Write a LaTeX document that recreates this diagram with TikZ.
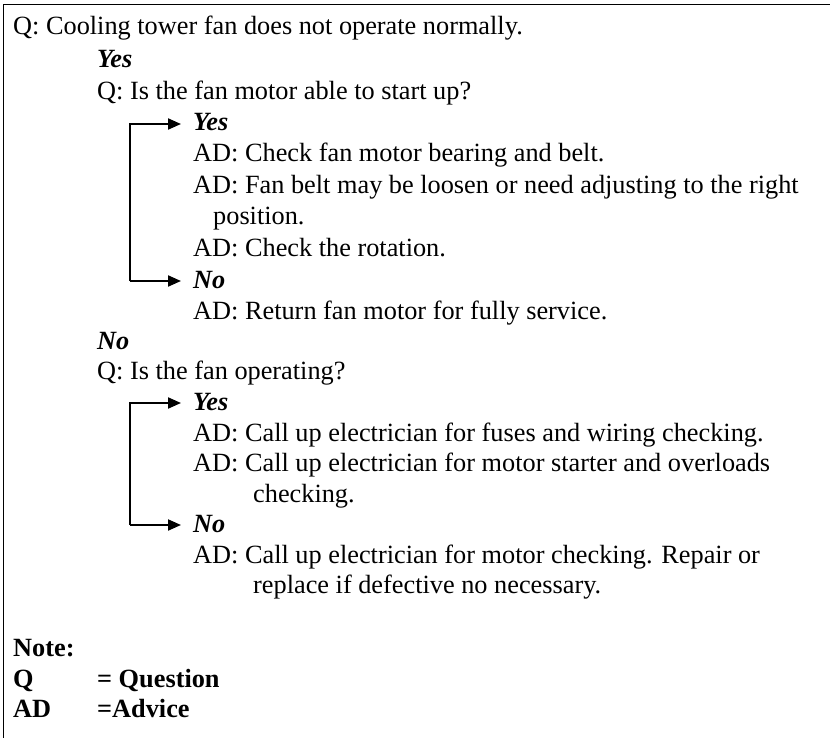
\documentclass[tikz,border=0pt]{standalone}
\usepackage{fontspec}
\setmainfont{Liberation Serif}
\usetikzlibrary{arrows.meta}
\newcommand{\mysize}{\fontsize{26.3pt}{31pt}\selectfont}
\tikzset{
  txt/.style={anchor=base west, inner sep=0pt, font=\mysize},
  ans/.style={txt, font=\mysize\bfseries\itshape},
  note/.style={txt, font=\mysize\bfseries},
  conn/.style={line width=2pt, line join=miter, -{Triangle[length=13pt,width=11pt]}},
  frameline/.style={line width=1.8pt}
}
\begin{document}
\begin{tikzpicture}[x=1pt,y=-1pt]
\useasboundingbox (0,0) rectangle (830,738);
\draw[frameline] (3.5,738) -- (3.5,4.5) -- (830,4.5);
% main question
\node[txt] (q1) at (13,35) {Q: Cooling tower fan does not operate normally.};
\node[ans] (yes1) at (97,68) {Yes};
\node[txt] (q2) at (97,100) {Q: Is the fan motor able to start up?};
\node[ans] (yesA) at (193,131) {Yes};
\node[txt] (adA1) at (193,162) {AD: Check fan motor bearing and belt.};
\node[txt] (adA2) at (193,194) {AD: Fan belt may be loosen or need adjusting to the right};
\node[txt] (adA2b) at (213,225) {position.};
\node[txt] (adA3) at (193,256) {AD: Check the rotation.};
\node[ans] (noA) at (193,288) {No};
\node[txt] (adA4) at (193,319) {AD: Return fan motor for fully service.};
\node[ans] (no1) at (97,349) {No};
\node[txt] (q3) at (97,379) {Q: Is the fan operating?};
\node[ans] (yesB) at (193,410) {Yes};
\node[txt] (adB1) at (193,441) {AD: Call up electrician for fuses and wiring checking.};
\node[txt] (adB2) at (193,471) {AD: Call up electrician for motor starter and overloads};
\node[txt] (adB2b) at (253,502) {checking.};
\node[ans] (noB) at (193,532) {No};
\node[txt] (adB3) at (193,563) {AD: Call up electrician for motor checking. Repair or};
\node[txt] (adB3b) at (253,593) {replace if defective no necessary.};
% note
\node[note] (nt) at (13,656) {Note:};
\node[note] (nq) at (13,687) {Q};
\node[note] (nqd) at (97,687) {= Question};
\node[note] (nad) at (13,717) {AD};
\node[note] (nadd) at (97,717) {=Advice};
% brackets
\coordinate (trA) at ([shift={(-63pt,7pt)}]noA.base west);
\draw[conn] (trA) |- ([shift={(-12pt,7pt)}]yesA.base west);
\draw[conn] (trA) -- ([shift={(-12pt,7pt)}]noA.base west);
\coordinate (trB) at ([shift={(-63pt,7pt)}]noB.base west);
\draw[conn] (trB) |- ([shift={(-12pt,7pt)}]yesB.base west);
\draw[conn] (trB) -- ([shift={(-12pt,7pt)}]noB.base west);
\end{tikzpicture}
\end{document}
